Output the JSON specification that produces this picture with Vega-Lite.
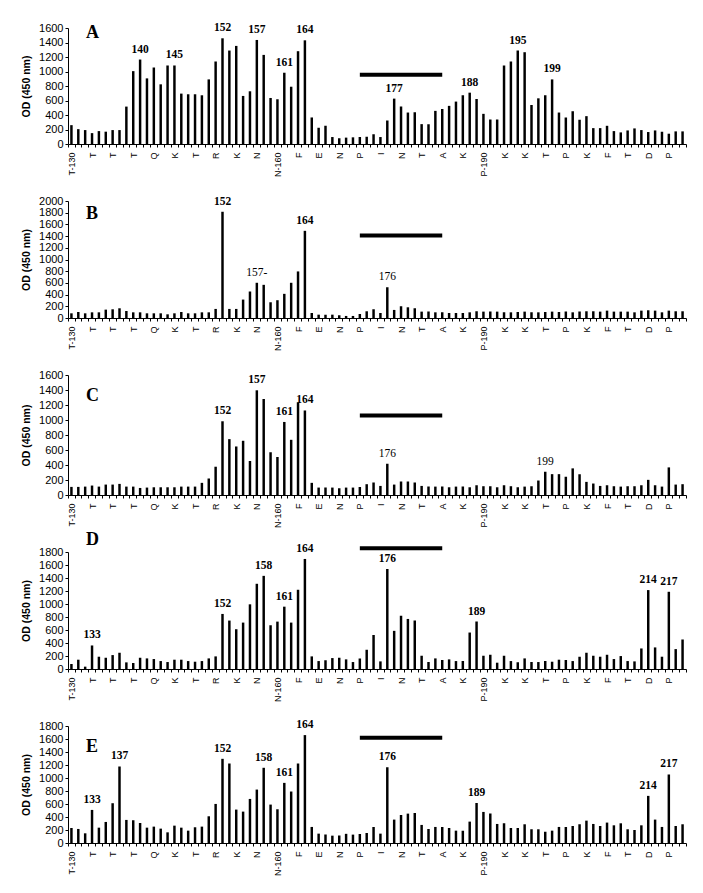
{
"$schema": "https://vega.github.io/schema/vega-lite/v6.json",
"background": "white",
"padding": {"left": 21, "top": 22, "right": 5, "bottom": 5},
"spacing": 57,
"bounds": "flush",
"config": {
  "view": {"stroke": null},
  "axis": {"domainColor": "black", "tickColor": "black", "labelColor": "black", "titleColor": "black", "grid": false, "labelFont": "Liberation Sans", "titleFont": "Liberation Sans"},
  "axisY": {"format": "d", "labelOverlap": false, "labelFlush": false, "labelFontSize": 11, "titleFontSize": 10.5, "titleFontWeight": "bold", "tickSize": 3, "labelPadding": 2, "titlePadding": 7},
  "title": {"anchor": "start", "frame": "group", "offset": 0, "dx": 18, "baseline": "alphabetic", "font": "Liberation Serif", "fontSize": 18, "fontWeight": "bold", "color": "black"},
  "text": {"font": "Liberation Serif", "fontSize": 11.5, "fontWeight": "bold", "baseline": "alphabetic", "dy": -7, "color": "black"}
},
"datasets": {
"od": [
{"pos":130,"A":260,"B":80,"C":108,"D":77,"E":231},
{"pos":131,"A":205,"B":103,"C":108,"D":143,"E":216},
{"pos":132,"A":192,"B":80,"C":112,"D":36,"E":149},
{"pos":133,"A":150,"B":97,"C":126,"D":362,"E":509},
{"pos":134,"A":178,"B":97,"C":112,"D":189,"E":236},
{"pos":135,"A":170,"B":143,"C":139,"D":173,"E":324},
{"pos":136,"A":192,"B":149,"C":139,"D":214,"E":612},
{"pos":137,"A":192,"B":166,"C":148,"D":250,"E":1177},
{"pos":138,"A":516,"B":120,"C":112,"D":102,"E":355},
{"pos":139,"A":1005,"B":97,"C":112,"D":92,"E":350},
{"pos":140,"A":1165,"B":97,"C":94,"D":173,"E":308},
{"pos":141,"A":905,"B":80,"C":99,"D":163,"E":236},
{"pos":142,"A":1055,"B":80,"C":103,"D":153,"E":252},
{"pos":143,"A":823,"B":80,"C":103,"D":122,"E":221},
{"pos":144,"A":1083,"B":63,"C":103,"D":107,"E":164},
{"pos":145,"A":1083,"B":80,"C":103,"D":143,"E":267},
{"pos":146,"A":695,"B":103,"C":112,"D":143,"E":236},
{"pos":147,"A":686,"B":80,"C":112,"D":122,"E":190},
{"pos":148,"A":686,"B":80,"C":112,"D":112,"E":242},
{"pos":149,"A":672,"B":97,"C":162,"D":122,"E":252},
{"pos":150,"A":891,"B":97,"C":220,"D":163,"E":411},
{"pos":151,"A":1138,"B":155,"C":377,"D":194,"E":601},
{"pos":152,"A":1458,"B":1816,"C":983,"D":847,"E":1295},
{"pos":153,"A":1289,"B":155,"C":745,"D":745,"E":1223},
{"pos":154,"A":1353,"B":155,"C":647,"D":612,"E":514},
{"pos":155,"A":663,"B":315,"C":723,"D":714,"E":483},
{"pos":156,"A":727,"B":453,"C":453,"D":995,"E":678},
{"pos":157,"A":1435,"B":602,"C":1396,"D":1311,"E":822},
{"pos":158,"A":1229,"B":567,"C":1280,"D":1433,"E":1157},
{"pos":159,"A":635,"B":269,"C":570,"D":673,"E":591},
{"pos":160,"A":617,"B":304,"C":507,"D":729,"E":519},
{"pos":161,"A":983,"B":413,"C":974,"D":959,"E":925},
{"pos":162,"A":790,"B":602,"C":736,"D":714,"E":792},
{"pos":163,"A":1280,"B":796,"C":1235,"D":1219,"E":1223},
{"pos":164,"A":1430,"B":1490,"C":1127,"D":1693,"E":1660},
{"pos":165,"A":366,"B":86,"C":162,"D":194,"E":247},
{"pos":166,"A":224,"B":57,"C":99,"D":122,"E":144},
{"pos":167,"A":251,"B":57,"C":99,"D":133,"E":129},
{"pos":168,"A":96,"B":57,"C":99,"D":168,"E":113},
{"pos":169,"A":80,"B":45,"C":90,"D":175,"E":115},
{"pos":170,"A":88,"B":35,"C":99,"D":148,"E":141},
{"pos":171,"A":92,"B":35,"C":99,"D":107,"E":129},
{"pos":172,"A":96,"B":69,"C":108,"D":163,"E":139},
{"pos":173,"A":100,"B":115,"C":144,"D":296,"E":154},
{"pos":174,"A":133,"B":149,"C":166,"D":525,"E":247},
{"pos":175,"A":96,"B":86,"C":121,"D":117,"E":144},
{"pos":176,"A":325,"B":527,"C":418,"D":1540,"E":1167},
{"pos":177,"A":626,"B":138,"C":139,"D":587,"E":360},
{"pos":178,"A":516,"B":201,"C":180,"D":821,"E":432},
{"pos":179,"A":434,"B":183,"C":180,"D":770,"E":452},
{"pos":180,"A":439,"B":166,"C":166,"D":745,"E":463},
{"pos":181,"A":274,"B":109,"C":121,"D":204,"E":278},
{"pos":182,"A":274,"B":109,"C":112,"D":107,"E":216},
{"pos":183,"A":457,"B":97,"C":112,"D":163,"E":247},
{"pos":184,"A":484,"B":97,"C":112,"D":138,"E":247},
{"pos":185,"A":526,"B":86,"C":103,"D":148,"E":231},
{"pos":186,"A":585,"B":86,"C":112,"D":122,"E":190},
{"pos":187,"A":672,"B":86,"C":112,"D":122,"E":190},
{"pos":188,"A":708,"B":97,"C":103,"D":561,"E":329},
{"pos":189,"A":621,"B":115,"C":130,"D":729,"E":617},
{"pos":190,"A":416,"B":109,"C":117,"D":204,"E":478},
{"pos":191,"A":338,"B":109,"C":117,"D":219,"E":452},
{"pos":192,"A":338,"B":109,"C":103,"D":97,"E":293},
{"pos":193,"A":1083,"B":97,"C":130,"D":204,"E":303},
{"pos":194,"A":1138,"B":97,"C":117,"D":122,"E":231},
{"pos":195,"A":1289,"B":103,"C":103,"D":102,"E":231},
{"pos":196,"A":1266,"B":109,"C":112,"D":163,"E":288},
{"pos":197,"A":539,"B":97,"C":117,"D":107,"E":211},
{"pos":198,"A":630,"B":97,"C":193,"D":107,"E":211},
{"pos":199,"A":672,"B":103,"C":310,"D":122,"E":175},
{"pos":200,"A":891,"B":109,"C":278,"D":112,"E":190},
{"pos":201,"A":434,"B":103,"C":278,"D":143,"E":247},
{"pos":202,"A":366,"B":109,"C":242,"D":138,"E":247},
{"pos":203,"A":452,"B":97,"C":355,"D":122,"E":262},
{"pos":204,"A":334,"B":109,"C":278,"D":189,"E":288},
{"pos":205,"A":384,"B":115,"C":175,"D":250,"E":344},
{"pos":206,"A":219,"B":115,"C":153,"D":204,"E":293},
{"pos":207,"A":219,"B":109,"C":121,"D":189,"E":262},
{"pos":208,"A":251,"B":126,"C":130,"D":219,"E":314},
{"pos":209,"A":178,"B":109,"C":117,"D":153,"E":272},
{"pos":210,"A":160,"B":109,"C":112,"D":199,"E":303},
{"pos":211,"A":187,"B":109,"C":117,"D":122,"E":211},
{"pos":212,"A":215,"B":97,"C":117,"D":117,"E":200},
{"pos":213,"A":192,"B":126,"C":130,"D":316,"E":272},
{"pos":214,"A":165,"B":132,"C":202,"D":1214,"E":725},
{"pos":215,"A":187,"B":126,"C":130,"D":332,"E":360},
{"pos":216,"A":169,"B":97,"C":112,"D":189,"E":247},
{"pos":217,"A":142,"B":126,"C":368,"D":1188,"E":1054},
{"pos":218,"A":174,"B":115,"C":139,"D":306,"E":262},
{"pos":219,"A":174,"B":115,"C":144,"D":454,"E":288}
],
"notes": [
{"panel":"A","pos":140,"label":"140"},{"panel":"A","pos":145,"label":"145"},{"panel":"A","pos":152,"label":"152"},{"panel":"A","pos":157,"label":"157"},{"panel":"A","pos":161,"label":"161"},{"panel":"A","pos":164,"label":"164"},{"panel":"A","pos":177,"label":"177"},{"panel":"A","pos":188,"label":"188"},{"panel":"A","pos":195,"label":"195"},{"panel":"A","pos":200,"label":"199"},
{"panel":"B","pos":152,"label":"152"},{"panel":"B","pos":157,"label":"157-"},{"panel":"B","pos":164,"label":"164"},{"panel":"B","pos":176,"label":"176"},
{"panel":"C","pos":152,"label":"152"},{"panel":"C","pos":157,"label":"157"},{"panel":"C","pos":161,"label":"161"},{"panel":"C","pos":164,"label":"164"},{"panel":"C","pos":176,"label":"176"},{"panel":"C","pos":199,"label":"199"},
{"panel":"D","pos":133,"label":"133"},{"panel":"D","pos":152,"label":"152"},{"panel":"D","pos":158,"label":"158"},{"panel":"D","pos":161,"label":"161"},{"panel":"D","pos":164,"label":"164"},{"panel":"D","pos":176,"label":"176"},{"panel":"D","pos":189,"label":"189"},{"panel":"D","pos":214,"label":"214"},{"panel":"D","pos":217,"label":"217"},
{"panel":"E","pos":133,"label":"133"},{"panel":"E","pos":137,"label":"137"},{"panel":"E","pos":152,"label":"152"},{"panel":"E","pos":158,"label":"158"},{"panel":"E","pos":161,"label":"161"},{"panel":"E","pos":164,"label":"164"},{"panel":"E","pos":176,"label":"176"},{"panel":"E","pos":189,"label":"189"},{"panel":"E","pos":214,"label":"214"},{"panel":"E","pos":217,"label":"217"}
],
"segments": [
{"panel":"A","start":172,"end":184,"level":955},
{"panel":"B","start":172,"end":184,"level":1410},
{"panel":"C","start":172,"end":184,"level":1060},
{"panel":"D","start":172,"end":184,"level":1856},
{"panel":"E","start":172,"end":184,"level":1619}
]
},
"vconcat": [
{
 "width": 618, "height": 116,
 "title": {"text": "A", "dy": 24},
 "layer": [
  {"data": {"name": "od"}, "mark": {"type": "bar", "color": "black", "width": {"band": 0.4}},
   "encoding": {
    "x": {"field": "pos", "type": "ordinal", "axis": {"title": null, "labelAngle": -90, "labelFontSize": 9, "labelOverlap": false, "tickBand": "extent", "tickSize": 3, "labelPadding": 5, "labelExpr": "({'130':'T-130','133':'T','136':'T','139':'T','142':'Q','145':'K','148':'T','151':'R','154':'K','157':'N','160':'N-160','163':'F','166':'E','169':'N','172':'P','175':'I','178':'N','181':'T','184':'A','187':'K','190':'P-190','193':'K','196':'K','199':'T','202':'P','205':'K','208':'F','211':'T','214':'D','217':'P'})[datum.label] || ''"}},
    "y": {"field": "A", "type": "quantitative", "title": "OD (450 nm)", "scale": {"domain": [0, 1600], "nice": false}, "axis": {"values": [0,200,400,600,800,1000,1200,1400,1600], "labelOverlap": false, "tickCount": 9}}
   }},
  {"data": {"name": "segments"}, "transform": [{"filter": "datum.panel == 'A'"}], "mark": {"type": "rule", "strokeWidth": 4, "color": "black"},
   "encoding": {"x": {"field": "start", "type": "ordinal", "title": null}, "x2": {"field": "end"}, "y": {"field": "level", "type": "quantitative", "title": "OD (450 nm)"}}},
  {"data": {"name": "notes"}, "transform": [{"filter": "datum.panel == 'A'"}, {"lookup": "pos", "from": {"data": {"name": "od"}, "key": "pos", "fields": ["A"]}}], "mark": {"type": "text"},
   "encoding": {"x": {"field": "pos", "type": "ordinal", "title": null}, "y": {"field": "A", "type": "quantitative", "title": "OD (450 nm)"}, "text": {"field": "label"}}}
 ]
},
{
 "width": 618, "height": 117,
 "title": {"text": "B", "dy": 32.3},
 "layer": [
  {"data": {"name": "od"}, "mark": {"type": "bar", "color": "black", "width": {"band": 0.4}},
   "encoding": {
    "x": {"field": "pos", "type": "ordinal", "axis": {"title": null, "labelAngle": -90, "labelFontSize": 9, "labelOverlap": false, "tickBand": "extent", "tickSize": 3, "labelPadding": 5, "labelExpr": "({'130':'T-130','133':'T','136':'T','139':'T','142':'Q','145':'K','148':'T','151':'R','154':'K','157':'N','160':'N-160','163':'F','166':'E','169':'N','172':'P','175':'I','178':'N','181':'T','184':'A','187':'K','190':'P-190','193':'K','196':'K','199':'T','202':'P','205':'K','208':'F','211':'T','214':'D','217':'P'})[datum.label] || ''"}},
    "y": {"field": "B", "type": "quantitative", "title": "OD (450 nm)", "scale": {"domain": [0, 2000], "nice": false}, "axis": {"values": [0,200,400,600,800,1000,1200,1400,1600,1800,2000], "labelOverlap": false, "tickCount": 11}}
   }},
  {"data": {"name": "segments"}, "transform": [{"filter": "datum.panel == 'B'"}], "mark": {"type": "rule", "strokeWidth": 4, "color": "black"},
   "encoding": {"x": {"field": "start", "type": "ordinal", "title": null}, "x2": {"field": "end"}, "y": {"field": "level", "type": "quantitative", "title": "OD (450 nm)"}}},
  {"data": {"name": "notes"}, "transform": [{"filter": "datum.panel == 'B' && datum.label != '157-' && datum.label != '176'"}, {"lookup": "pos", "from": {"data": {"name": "od"}, "key": "pos", "fields": ["B"]}}], "mark": {"type": "text"},
   "encoding": {"x": {"field": "pos", "type": "ordinal", "title": null}, "y": {"field": "B", "type": "quantitative", "title": "OD (450 nm)"}, "text": {"field": "label"}}},
  {"data": {"name": "notes"}, "transform": [{"filter": "datum.panel == 'B' && (datum.label == '157-' || datum.label == '176')"}, {"lookup": "pos", "from": {"data": {"name": "od"}, "key": "pos", "fields": ["B"]}}], "mark": {"type": "text", "fontWeight": "normal"},
   "encoding": {"x": {"field": "pos", "type": "ordinal", "title": null}, "y": {"field": "B", "type": "quantitative", "title": "OD (450 nm)"}, "text": {"field": "label"}}}
 ]
},
{
 "width": 618, "height": 120,
 "title": {"text": "C", "dy": 40},
 "layer": [
  {"data": {"name": "od"}, "mark": {"type": "bar", "color": "black", "width": {"band": 0.4}},
   "encoding": {
    "x": {"field": "pos", "type": "ordinal", "axis": {"title": null, "labelAngle": -90, "labelFontSize": 9, "labelOverlap": false, "tickBand": "extent", "tickSize": 3, "labelPadding": 5, "labelExpr": "({'130':'T-130','133':'T','136':'T','139':'T','142':'Q','145':'K','148':'T','151':'R','154':'K','157':'N','160':'N-160','163':'F','166':'E','169':'N','172':'P','175':'I','178':'N','181':'T','184':'A','187':'K','190':'P-190','193':'K','196':'K','199':'T','202':'P','205':'K','208':'F','211':'T','214':'D','217':'P'})[datum.label] || ''"}},
    "y": {"field": "C", "type": "quantitative", "title": "OD (450 nm)", "scale": {"domain": [0, 1600], "nice": false}, "axis": {"values": [0,200,400,600,800,1000,1200,1400,1600], "labelOverlap": false, "tickCount": 9}}
   }},
  {"data": {"name": "segments"}, "transform": [{"filter": "datum.panel == 'C'"}], "mark": {"type": "rule", "strokeWidth": 4, "color": "black"},
   "encoding": {"x": {"field": "start", "type": "ordinal", "title": null}, "x2": {"field": "end"}, "y": {"field": "level", "type": "quantitative", "title": "OD (450 nm)"}}},
  {"data": {"name": "notes"}, "transform": [{"filter": "datum.panel == 'C' && datum.label != '176' && datum.label != '199'"}, {"lookup": "pos", "from": {"data": {"name": "od"}, "key": "pos", "fields": ["C"]}}], "mark": {"type": "text"},
   "encoding": {"x": {"field": "pos", "type": "ordinal", "title": null}, "y": {"field": "C", "type": "quantitative", "title": "OD (450 nm)"}, "text": {"field": "label"}}},
  {"data": {"name": "notes"}, "transform": [{"filter": "datum.panel == 'C' && (datum.label == '176' || datum.label == '199')"}, {"lookup": "pos", "from": {"data": {"name": "od"}, "key": "pos", "fields": ["C"]}}], "mark": {"type": "text", "fontWeight": "normal"},
   "encoding": {"x": {"field": "pos", "type": "ordinal", "title": null}, "y": {"field": "C", "type": "quantitative", "title": "OD (450 nm)"}, "text": {"field": "label"}}}
 ]
},
{
 "width": 618, "height": 117,
 "title": {"text": "D", "dy": 10},
 "layer": [
  {"data": {"name": "od"}, "mark": {"type": "bar", "color": "black", "width": {"band": 0.4}},
   "encoding": {
    "x": {"field": "pos", "type": "ordinal", "axis": {"title": null, "labelAngle": -90, "labelFontSize": 9, "labelOverlap": false, "tickBand": "extent", "tickSize": 3, "labelPadding": 5, "labelExpr": "({'130':'T-130','133':'T','136':'T','139':'T','142':'Q','145':'K','148':'T','151':'R','154':'K','157':'N','160':'N-160','163':'F','166':'E','169':'N','172':'P','175':'I','178':'N','181':'T','184':'A','187':'K','190':'P-190','193':'K','196':'K','199':'T','202':'P','205':'K','208':'F','211':'T','214':'D','217':'P'})[datum.label] || ''"}},
    "y": {"field": "D", "type": "quantitative", "title": "OD (450 nm)", "scale": {"domain": [0, 1800], "nice": false}, "axis": {"values": [0,200,400,600,800,1000,1200,1400,1600,1800], "labelOverlap": false, "tickCount": 10}}
   }},
  {"data": {"name": "segments"}, "transform": [{"filter": "datum.panel == 'D'"}], "mark": {"type": "rule", "strokeWidth": 4, "color": "black"},
   "encoding": {"x": {"field": "start", "type": "ordinal", "title": null}, "x2": {"field": "end"}, "y": {"field": "level", "type": "quantitative", "title": "OD (450 nm)"}}},
  {"data": {"name": "notes"}, "transform": [{"filter": "datum.panel == 'D'"}, {"lookup": "pos", "from": {"data": {"name": "od"}, "key": "pos", "fields": ["D"]}}], "mark": {"type": "text"},
   "encoding": {"x": {"field": "pos", "type": "ordinal", "title": null}, "y": {"field": "D", "type": "quantitative", "title": "OD (450 nm)"}, "text": {"field": "label"}}}
 ]
},
{
 "width": 618, "height": 117,
 "title": {"text": "E", "dy": 41},
 "layer": [
  {"data": {"name": "od"}, "mark": {"type": "bar", "color": "black", "width": {"band": 0.4}},
   "encoding": {
    "x": {"field": "pos", "type": "ordinal", "axis": {"title": null, "labelAngle": -90, "labelFontSize": 9, "labelOverlap": false, "tickBand": "extent", "tickSize": 3, "labelPadding": 5, "labelExpr": "({'130':'T-130','133':'T','136':'T','139':'T','142':'Q','145':'K','148':'T','151':'R','154':'K','157':'N','160':'N-160','163':'F','166':'E','169':'N','172':'P','175':'I','178':'N','181':'T','184':'A','187':'K','190':'P-190','193':'K','196':'K','199':'T','202':'P','205':'K','208':'F','211':'T','214':'D','217':'P'})[datum.label] || ''"}},
    "y": {"field": "E", "type": "quantitative", "title": "OD (450 nm)", "scale": {"domain": [0, 1800], "nice": false}, "axis": {"values": [0,200,400,600,800,1000,1200,1400,1600,1800], "labelOverlap": false, "tickCount": 10}}
   }},
  {"data": {"name": "segments"}, "transform": [{"filter": "datum.panel == 'E'"}], "mark": {"type": "rule", "strokeWidth": 4, "color": "black"},
   "encoding": {"x": {"field": "start", "type": "ordinal", "title": null}, "x2": {"field": "end"}, "y": {"field": "level", "type": "quantitative", "title": "OD (450 nm)"}}},
  {"data": {"name": "notes"}, "transform": [{"filter": "datum.panel == 'E'"}, {"lookup": "pos", "from": {"data": {"name": "od"}, "key": "pos", "fields": ["E"]}}], "mark": {"type": "text"},
   "encoding": {"x": {"field": "pos", "type": "ordinal", "title": null}, "y": {"field": "E", "type": "quantitative", "title": "OD (450 nm)"}, "text": {"field": "label"}}}
 ]
}
]
}
